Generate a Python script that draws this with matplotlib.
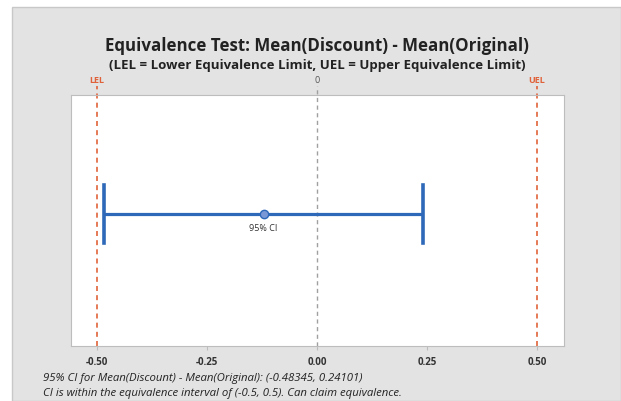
import matplotlib.pyplot as plt
from matplotlib.patches import Rectangle

plt.rcParams['font.family'] = ['Open Sans', 'DejaVu Sans']

# CI values
ci_low = -0.48345
ci_high = 0.24101
ci_mid = (ci_low + ci_high) / 2
lel = -0.5
uel = 0.5
xticks = [-0.50, -0.25, 0.00, 0.25, 0.50]
xtick_labels = ["-0.50", "-0.25", "0.00", "0.25", "0.50"]

W, H = 621, 402
fig = plt.figure(figsize=(W / 100, H / 100), dpi=100)
fig.set_facecolor("white")

# gray panel behind the chart
fig.patches.append(Rectangle((12 / W, 0), 1 - 12 / W, 1 - 8 / H, transform=fig.transFigure,
                             facecolor="#e3e3e3", edgecolor="#c8c8c8", lw=1, zorder=-10))

ax = fig.add_axes([71 / W, 1 - 347 / H, (564 - 71) / W, (347 - 96) / H])
ax.set_zorder(5)
ax.set_facecolor("white")
for s in ax.spines.values():
    s.set_color("#bdbdbd")
    s.set_linewidth(0.8)

ax.set_xlim(-0.5 - 26 / 441, 0.5 + 27 / 441)
ax.set_ylim(0, 1)

red = "#e0623a"
ax.axvline(lel, color=red, ls=(0, (3, 2.5)), lw=1.2, clip_on=False, ymax=1.035)
ax.axvline(uel, color=red, ls=(0, (3, 2.5)), lw=1.2, clip_on=False, ymax=1.035)
ax.axvline(0, color="#a0a0a0", ls=(0, (3, 2.5)), lw=1.0, clip_on=False, ymax=1.035)

blue = "#2e68b8"
y0 = 0.525
ax.plot([ci_low, ci_high], [y0, y0], color=blue, lw=2.3, solid_capstyle="butt")
ax.plot([ci_low, ci_low], [y0 - 0.115, y0 + 0.115], color=blue, lw=2.6)
ax.plot([ci_high, ci_high], [y0 - 0.115, y0 + 0.115], color=blue, lw=2.6)
ax.plot([ci_mid], [y0], "o", ms=6, mfc="#7b98d6", mec=blue, mew=1)
ax.text(ci_mid, y0 - 0.035, "95% CI", ha="center", va="top", fontsize=6.5, color="#333333")

ax.set_xticks(xticks)
ax.set_xticklabels(xtick_labels, fontsize=7, fontweight="bold", color="#333333")
ax.tick_params(axis="x", length=3, color="#bdbdbd", pad=4)
ax.set_yticks([])

# labels above the plot
ax.text(lel, 1.045, "LEL", color=red, fontsize=6.5, fontweight="bold", ha="center", va="bottom", transform=ax.get_xaxis_transform())
ax.text(uel, 1.045, "UEL", color=red, fontsize=6.5, fontweight="bold", ha="center", va="bottom", transform=ax.get_xaxis_transform())
ax.text(0, 1.045, "0", color="#555555", fontsize=6.5, ha="center", va="bottom", transform=ax.get_xaxis_transform())

fig.text(317 / W, 1 - 46 / H, "Equivalence Test: Mean(Discount) - Mean(Original)",
         ha="center", va="center", fontsize=12.2, fontweight="bold", color="#222222")
fig.text(317 / W, 1 - 65 / H, "(LEL = Lower Equivalence Limit, UEL = Upper Equivalence Limit)",
         ha="center", va="center", fontsize=9.5, fontweight="bold", color="#222222")

fig.text(43 / W, 1 - 379 / H, "95% CI for Mean(Discount) - Mean(Original): (-0.48345, 0.24101)",
         ha="left", va="center", fontsize=8.2, style="italic", color="#222222")
fig.text(43 / W, 1 - 394 / H, "CI is within the equivalence interval of (-0.5, 0.5). Can claim equivalence.",
         ha="left", va="center", fontsize=8.2, style="italic", color="#222222")

fig.savefig("out.png", dpi=100)
